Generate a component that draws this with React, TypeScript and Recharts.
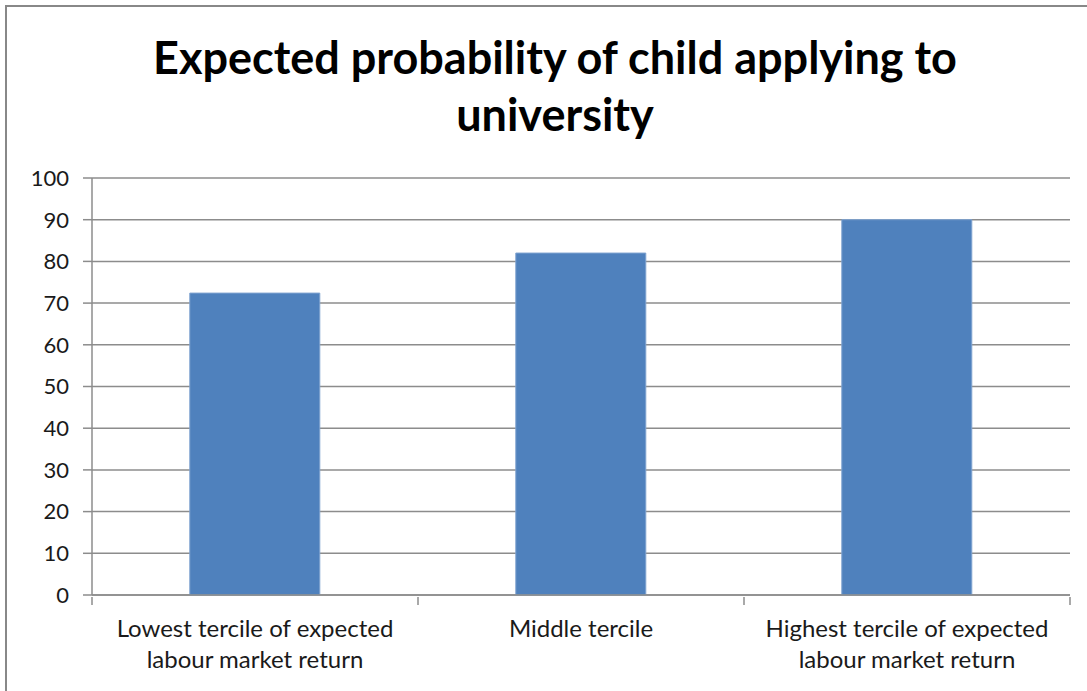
import { Bar, BarChart, CartesianGrid, XAxis, YAxis } from 'recharts';

const categories = [
  'Lowest tercile of expected labour market return',
  'Middle tercile',
  'Highest tercile of expected labour market return',
];
const probability = [72.4, 82, 90];
const yTicks = [0, 10, 20, 30, 40, 50, 60, 70, 80, 90, 100];

const data = categories.map((name, i) => ({ name, value: probability[i] }));

const FONT = 'Lato, "Open Sans", sans-serif';
const GRID = '#8c8c8c';

function wrap(label: string, max: number) {
  const words = label.split(' ');
  const lines: string[] = [];
  let cur = '';
  for (const w of words) {
    const next = cur ? cur + ' ' + w : w;
    if (next.length > max && cur) {
      lines.push(cur);
      cur = w;
    } else cur = next;
  }
  if (cur) lines.push(cur);
  return lines;
}

function CategoryTick(props: any) {
  const { x, y, payload, index } = props;
  const half = 326 / 2;
  const lines = wrap(payload.value, 27);
  return (
    <g>
      <line x1={x - half} x2={x - half} y1={y - 8} y2={y} stroke={GRID} strokeWidth={1.5} />
      {index === categories.length - 1 && (
        <line x1={x + half} x2={x + half} y1={y - 8} y2={y} stroke={GRID} strokeWidth={1.5} />
      )}
      <text x={x} y={y + 32} textAnchor='middle' fontFamily={FONT} fontSize={24} fill='#1a1a1a'>
        {lines.map((l, i) => (
          <tspan key={i} x={x} dy={i === 0 ? 0 : 31}>
            {l}
          </tspan>
        ))}
      </text>
    </g>
  );
}

export default function App() {
  return (
    <div style={{ position: 'fixed', left: 0, top: 0, width: 1087, height: 691, background: '#fff' }}>
      <div
        style={{
          position: 'absolute',
          left: 5,
          top: 5,
          right: -10,
          bottom: -10,
          borderLeft: '2px solid #888',
          borderTop: '2px solid #888',
        }}
      />
      <div
        style={{
          position: 'absolute',
          left: 0,
          top: 29,
          width: 1110,
          textAlign: 'center',
          fontFamily: FONT,
          fontWeight: 'bold',
          fontSize: 45,
          lineHeight: '57px',
          color: '#000',
        }}
      >
        Expected probability of child applying to
        <br />
        university
      </div>
      <BarChart
        width={1087}
        height={691}
        data={data}
        margin={{ top: 178, right: 17, bottom: 0, left: 0 }}
        barCategoryGap='30%'
        style={{ position: 'absolute', left: 0, top: 0 }}
      >
        <CartesianGrid vertical={false} stroke={GRID} strokeWidth={1.5} />
        <XAxis
          dataKey='name'
          height={96}
          axisLine={{ stroke: GRID, strokeWidth: 1.5 }}
          tickLine={false}
          tickSize={8}
          interval={0}
          tick={<CategoryTick />}
        />
        <YAxis
          width={92}
          domain={[0, 100]}
          ticks={yTicks}
          interval={0}
          axisLine={{ stroke: GRID, strokeWidth: 1.5 }}
          tickLine={{ stroke: GRID, strokeWidth: 1.5 }}
          tickSize={9}
          tickMargin={14}
          tick={{ fontFamily: FONT, fontSize: 22, fill: '#1a1a1a' }}
        />
        <Bar dataKey='value' fill='#4F81BD' stroke='#7FA3D0' strokeWidth={1} isAnimationActive={false} />
      </BarChart>
    </div>
  );
}
